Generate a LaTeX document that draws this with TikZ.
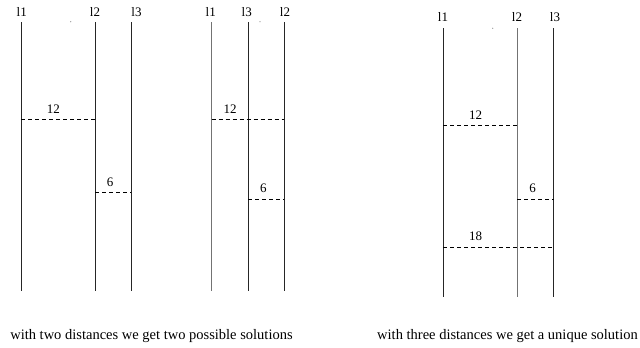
\documentclass[tikz,border=0pt]{standalone}
\usepackage{fontspec}
\setmainfont{Liberation Serif}
\begin{document}
\begin{tikzpicture}[x=1pt,y=-1pt,
  lbl/.style={inner sep=0pt,font=\fontsize{13}{15}\selectfont},
  caption/.style={inner sep=0pt,font=\fontsize{14.5}{17}\selectfont},
  vline/.style={line width=0.9pt,black!85},
  gline/.style={line width=0.9pt,black!55},
  dist/.style={line width=0.7pt,dash pattern=on 4pt off 3pt},
  speck/.style={fill=black!45,draw=none,inner sep=0pt,minimum size=1.2pt,circle}]
\useasboundingbox (0,0) rectangle (640,348);
% ---------- group 1 ----------
\node[lbl] (a1) at (21.7,12) {l1};
\node[lbl] (a2) at (95,12) {l2};
\node[lbl] (a3) at (136.5,12) {l3};
\coordinate (a1t) at (21.3,22); \coordinate (a1b) at (21.3,291);
\coordinate (a2t) at (95,22);   \coordinate (a2b) at (95,291);
\coordinate (a3t) at (131,22);  \coordinate (a3b) at (131,291);
\draw[vline] (a1t) -- (a1b);
\draw[vline] (a2t) -- (a2b);
\draw[vline] (a3t) -- (a3b);
\coordinate (a12l) at (21.3,119.3); \coordinate (a12r) at (95,119.3);
\draw[dist] (a12l) -- (a12r);
\node[lbl] (a12) at (53.3,109.3) {12};
\coordinate (a6l) at (95,192.7); \coordinate (a6r) at (131,192.7);
\draw[dist] (a6l) -- (a6r);
\node[lbl] (a6) at (110,182.3) {6};
\node[speck] (s1) at (70.7,21.7) {};
% ---------- group 2 ----------
\node[lbl] (b1) at (210.7,12) {l1};
\node[lbl] (b3) at (246.7,12) {l3};
\node[lbl] (b2) at (285,12) {l2};
\coordinate (b1t) at (211.5,22); \coordinate (b1b) at (211.5,291);
\coordinate (b3t) at (248,22);   \coordinate (b3b) at (248,291);
\coordinate (b2t) at (284.3,22); \coordinate (b2b) at (284.3,291);
\draw[gline] (b1t) -- (b1b);
\draw[vline] (b3t) -- (b3b);
\draw[vline] (b2t) -- (b2b);
\coordinate (b12l) at (211.5,119.3); \coordinate (b12r) at (284.3,119.3);
\draw[dist] (b12l) -- (b12r);
\node[lbl] (b12) at (230,109.3) {12};
\coordinate (b6l) at (248,199); \coordinate (b6r) at (284.3,199);
\draw[dist] (b6l) -- (b6r);
\node[lbl] (b6) at (263.3,188.3) {6};
\node[speck] (s2) at (260,21.7) {};
% ---------- group 3 ----------
\node[lbl] (c1) at (443,17) {l1};
\node[lbl] (c2) at (517,17) {l2};
\node[lbl] (c3) at (555,17) {l3};
\coordinate (c1t) at (443.3,28); \coordinate (c1b) at (443.3,297);
\coordinate (c2t) at (517,28);   \coordinate (c2b) at (517,297);
\coordinate (c3t) at (553.7,28); \coordinate (c3b) at (553.7,297);
\draw[vline] (c1t) -- (c1b);
\draw[gline] (c2t) -- (c2b);
\draw[vline] (c3t) -- (c3b);
\coordinate (c12l) at (443.3,125.3); \coordinate (c12r) at (517,125.3);
\draw[dist] (c12l) -- (c12r);
\node[lbl] (c12) at (475.7,115) {12};
\coordinate (c6l) at (517,199); \coordinate (c6r) at (553.7,199);
\draw[dist] (c6l) -- (c6r);
\node[lbl] (c6) at (532.7,188.3) {6};
\coordinate (c18l) at (443.3,247.7); \coordinate (c18r) at (553.7,247.7);
\draw[dist] (c18l) -- (c18r);
\node[lbl] (c18) at (475.7,236.7) {18};
\node[speck] (s3) at (492.7,28.3) {};
% ---------- captions ----------
\node[caption] (cap1) at (151.5,336) {with two distances we get two possible solutions};
\node[caption] (cap2) at (507.5,336) {with three distances we get a unique solution};
\end{tikzpicture}
\end{document}
